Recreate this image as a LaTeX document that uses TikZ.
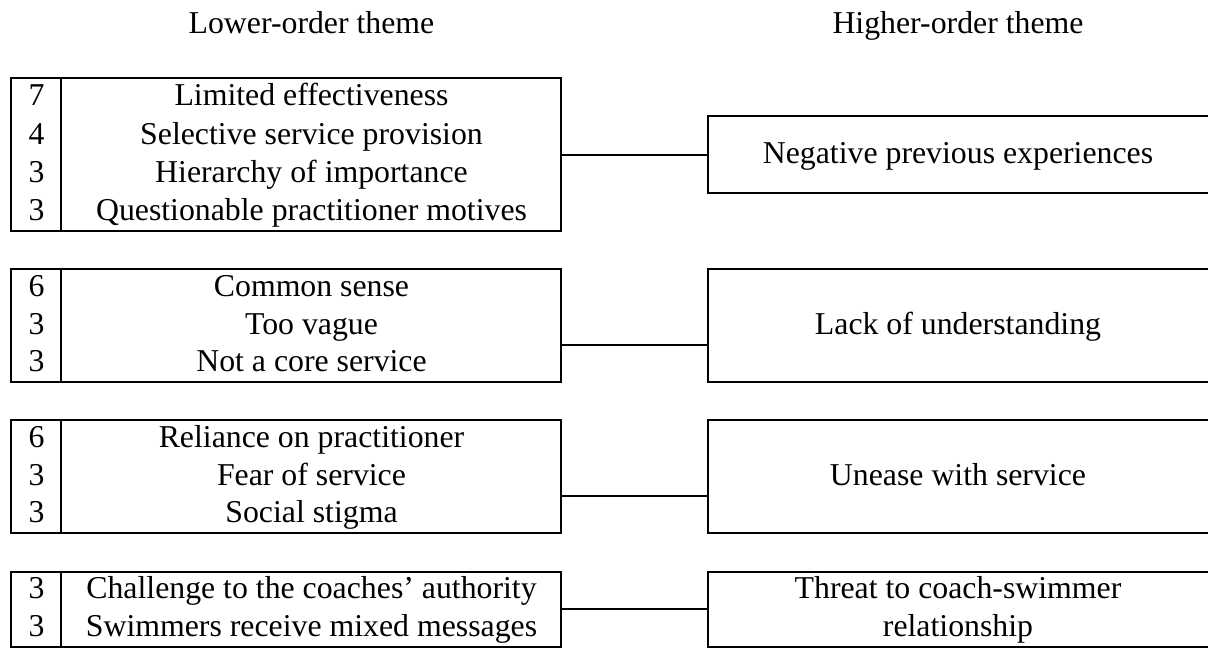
\documentclass[tikz,border=0pt]{standalone}
\usepackage{fontspec}
\setmainfont{Liberation Serif}
\usetikzlibrary{fit,calc}
\def\u{0.3774pt}
\tikzset{
  box/.style={draw, line width=0.7pt, inner sep=0pt},
  conn/.style={line width=0.7pt},
  num/.style={inner sep=0pt, text height=1.6ex, text depth=0.3ex},
  lbl/.style={inner sep=0pt, text height=1.6ex, text depth=0.3ex},
  head/.style={inner sep=0pt, anchor=base},
}
\begin{document}
\begin{tikzpicture}[x=\u, y=-\u, font=\fontsize{12pt}{14.4pt}\selectfont]
\useasboundingbox (0,0) rectangle (1208,648);
% headers
\node[head] (h1) at (311.5,33) {Lower-order theme};
\node[head] (h2) at (958,33) {Higher-order theme};
% left boxes
\node[box, fit={(11,78) (561,231)}] (L1) {};
\node[box, fit={(11,269) (561,382)}] (L2) {};
\node[box, fit={(11,420) (561,533)}] (L3) {};
\node[box, fit={(11,572) (561,647)}] (L4) {};
\foreach \b in {L1,L2,L3,L4}{
  \draw[conn] ([xshift=51*\u]\b.north west) -- ([xshift=51*\u]\b.south west);
}
% right boxes
\node[box, fit={(708,116) (1214,193)}] (R1) {};
\node[box, fit={(708,269) (1214,382)}] (R2) {};
\node[box, fit={(708,420) (1214,533)}] (R3) {};
\node[box, fit={(708,572) (1214,647)}] (R4) {};
% box 1 rows
\node[num] (n11) at (36.5,98) {7};
\node[lbl] (t11) at (311.5,98) {Limited effectiveness};
\node[num] (n12) at (36.5,136.5) {4};
\node[lbl] (t12) at (311.5,136.5) {Selective service provision};
\node[num] (n13) at (36.5,175) {3};
\node[lbl] (t13) at (311.5,175) {Hierarchy of importance};
\node[num] (n14) at (36.5,213) {3};
\node[lbl] (t14) at (311.5,213) {Questionable practitioner motives};
% box 2 rows
\node[num] (n21) at (36.5,289) {6};
\node[lbl] (t21) at (311.5,289) {Common sense};
\node[num] (n22) at (36.5,326.5) {3};
\node[lbl] (t22) at (311.5,326.5) {Too vague};
\node[num] (n23) at (36.5,364) {3};
\node[lbl] (t23) at (311.5,364) {Not a core service};
% box 3 rows
\node[num] (n31) at (36.5,440) {6};
\node[lbl] (t31) at (311.5,440) {Reliance on practitioner};
\node[num] (n32) at (36.5,477.5) {3};
\node[lbl] (t32) at (311.5,477.5) {Fear of service};
\node[num] (n33) at (36.5,515) {3};
\node[lbl] (t33) at (311.5,515) {Social stigma};
% box 4 rows
\node[num] (n41) at (36.5,591) {3};
\node[lbl] (t41) at (311.5,591) {Challenge to the coaches’ authority};
\node[num] (n42) at (36.5,629) {3};
\node[lbl] (t42) at (311.5,629) {Swimmers receive mixed messages};
% right texts
\node[lbl] (r1) at (958,155.5) {Negative previous experiences};
\node[lbl] (r2) at (958,326.5) {Lack of understanding};
\node[lbl] (r3) at (958,477.5) {Unease with service};
\node[lbl] (r4a) at (958,591) {Threat to coach-swimmer};
\node[lbl] (r4b) at (958,629) {relationship};
% connectors
\coordinate (k1) at ([yshift=-0.5*\u]L1.east);
\draw[conn] (k1) -- (k1 -| R1.west);
\coordinate (k2) at ($(L2.south east)!1/3!(L2.north east)$);
\draw[conn] (k2) -- (k2 -| R2.west);
\coordinate (k3) at ($(L3.south east)!1/3!(L3.north east)$);
\draw[conn] (k3) -- (k3 -| R3.west);
\coordinate (k4) at ([yshift=0.5*\u]L4.east);
\draw[conn] (k4) -- (k4 -| R4.west);
\end{tikzpicture}
\end{document}
